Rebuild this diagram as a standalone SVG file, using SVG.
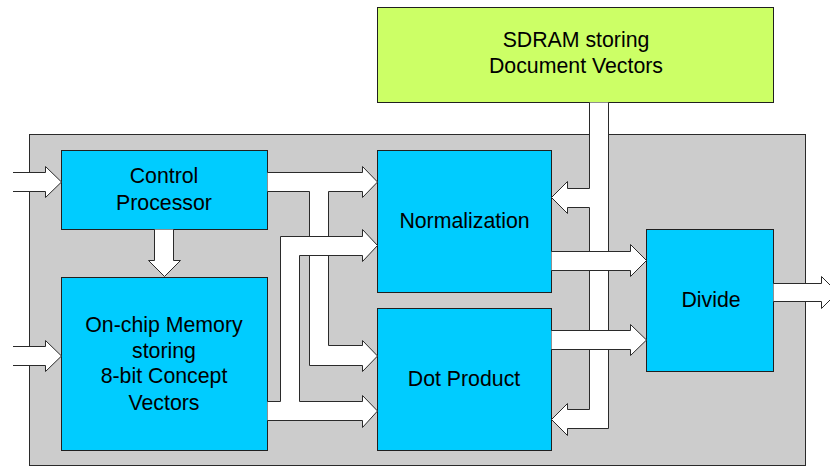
<svg xmlns="http://www.w3.org/2000/svg" width="830" height="467" viewBox="0 0 830 467">
  <style>
    .box { stroke: #1f1f1f; stroke-width: 1; }
    .blue { fill: #00CCFF; }
    .green { fill: #CCFF66; }
    .chip { fill: #CCCCCC; stroke: #2a2a2a; stroke-width: 1; }
    .lbl { font-family: "Liberation Sans", Arial, sans-serif; font-size: 21.3px; fill: #000; text-anchor: middle; }
    .bus { fill: #FFFFFF; stroke: #2a2a2a; stroke-width: 1; stroke-linejoin: miter; }
  </style>

  <rect width="830" height="467" fill="#FFFFFF"/>

  <!-- FPGA boundary -->
  <rect id="chip" class="chip" x="29.5" y="134.5" width="776" height="331"/>

  <g id="sdram">
    <rect class="box green" x="377.5" y="7.5" width="396" height="95"/>
    <text class="lbl" x="576" y="47.3">SDRAM storing</text>
    <text class="lbl" x="576" y="73.3">Document Vectors</text>
  </g>

  <g id="control">
    <rect class="box blue" x="61.5" y="150.5" width="206" height="79"/>
    <text class="lbl" x="164" y="183.3">Control</text>
    <text class="lbl" x="164" y="210">Processor</text>
  </g>

  <g id="memory">
    <rect class="box blue" x="61.5" y="277.5" width="206" height="173"/>
    <text class="lbl" x="164" y="332.3">On-chip Memory</text>
    <text class="lbl" x="164" y="357.5">storing</text>
    <text class="lbl" x="164" y="383.3">8-bit Concept</text>
    <text class="lbl" x="164" y="409.5">Vectors</text>
  </g>

  <g id="normalization">
    <rect class="box blue" x="377.5" y="150.5" width="174" height="142"/>
    <text class="lbl" x="464.5" y="227.7">Normalization</text>
  </g>

  <g id="dotproduct">
    <rect class="box blue" x="377.5" y="308.5" width="174" height="142"/>
    <text class="lbl" x="464" y="385.7">Dot Product</text>
  </g>

  <g id="divide">
    <rect class="box blue" x="646.5" y="229.5" width="127" height="142"/>
    <text class="lbl" x="711" y="306.7">Divide</text>
  </g>

  <!-- block arrows (buses) -->
  <g id="connectors">
    <!-- external inputs -->
    <path class="bus" d="M13,172.5 H45.5 V166.5 L61.5,182 L45.5,197.5 V191.5 H13"/>
    <path class="bus" d="M13,346.5 H45.5 V340.5 L61.5,356 L45.5,371.5 V365.5 H13"/>

    <!-- control processor to on-chip memory -->
    <path class="bus" d="M154.5,229.5 V260.5 H148.5 L164.5,276.5 L180.5,260.5 H173.5 V229.5"/>

    <!-- control processor to normalization and dot product -->
    <path class="bus" d="M267.5,172.5 H362.5 V166.5 L377.5,182 L362.5,197.5 V191.5 H328.5 V345.5 H362.5 V340.5 L377.5,356 L362.5,371.5 V365.5 H309.5 V191.5 H267.5"/>

    <!-- on-chip memory to dot product and normalization -->
    <path class="bus" d="M267.5,401.5 H280.5 V236.5 H362.5 V229.5 L377.5,245.5 L362.5,261.5 V255.5 H299.5 V401.5 H362.5 V395.5 L377.5,411 L362.5,427.5 V420.5 H267.5"/>

    <!-- SDRAM to normalization and dot product -->
    <path class="bus" d="M589.5,102.5 V188.5 H567.5 V181.5 L551.5,197.5 L567.5,213.5 V207.5 H589.5 V409.5 H567.5 V403.5 L551.5,419.5 L567.5,435.5 V428.5 H608.5 V102.5"/>

    <!-- normalization and dot product to divide -->
    <path class="bus" d="M551.5,251.5 H630.5 V244.5 L646.5,260.5 L630.5,276.5 V270.5 H551.5"/>
    <path class="bus" d="M551.5,330.5 H630.5 V324.5 L646.5,340 L630.5,355.5 V349.5 H551.5"/>

    <!-- result output -->
    <path class="bus" d="M773.5,283.5 H821.5 V276.5 L837.5,292.5 L821.5,308.5 V301.5 H773.5"/>
  </g>
</svg>
